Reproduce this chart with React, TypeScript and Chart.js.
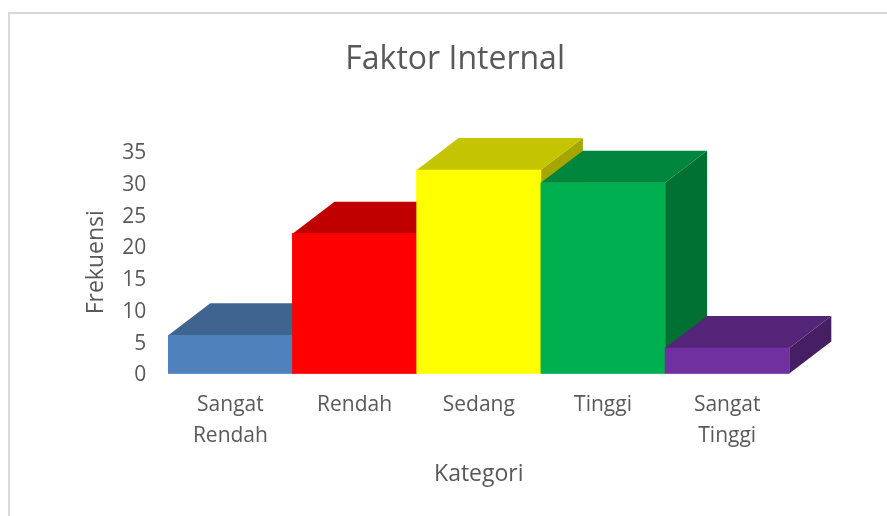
import React, { useEffect, useRef } from "react";
import { Chart, registerables } from "chart.js";

Chart.register(...registerables);

const categories = [["Sangat", "Rendah"], "Rendah", "Sedang", "Tinggi", ["Sangat", "Tinggi"]];
const frekuensi = [6, 22, 32, 30, 4];
const frontColors = ["#4F81BD", "#FF0000", "#FFFF00", "#00B050", "#7030A0"];
const topColors = ["#3F648F", "#C00000", "#C4C400", "#00853D", "#542478"];
const sideColors = ["#335275", "#9C0000", "#A6A600", "#007033", "#451E63"];
const titleText = "Faktor Internal";
const xTitle = "Kategori";
const yTitle = "Frekuensi";

const FONT = "'Open Sans', sans-serif";
const INK = "#595959";
const DEPTH_X = 42;
const DEPTH_Y = 32;

const bars3d = {
  id: "bars3d",
  beforeDraw(chart: any) {
    // nudge y tick labels so the digits sit centred on their value
    const items = chart.scales.y.getLabelItems();
    items.forEach((item: any) => {
      if (!item.nudged) {
        item.options.translation[1] += 2;
        item.nudged = true;
      }
    });
  },
  afterDatasetsDraw(chart: any) {
    const { ctx } = chart;
    const meta = chart.getDatasetMeta(0);
    meta.data.forEach((bar: any, i: number) => {
      const left = bar.x - bar.width / 2;
      const right = bar.x + bar.width / 2;
      const top = bar.y;
      const base = bar.base;
      ctx.save();
      ctx.fillStyle = sideColors[i];
      ctx.beginPath();
      ctx.moveTo(right, top);
      ctx.lineTo(right + DEPTH_X, top - DEPTH_Y);
      ctx.lineTo(right + DEPTH_X, base - DEPTH_Y);
      ctx.lineTo(right, base);
      ctx.closePath();
      ctx.fill();
      ctx.fillStyle = topColors[i];
      ctx.beginPath();
      ctx.moveTo(left, top);
      ctx.lineTo(left + DEPTH_X, top - DEPTH_Y);
      ctx.lineTo(right + DEPTH_X, top - DEPTH_Y);
      ctx.lineTo(right, top);
      ctx.closePath();
      ctx.fill();
      ctx.restore();
      bar.draw(ctx, chart.chartArea);
    });
  },
};

export default function App() {
  const ref = useRef<HTMLCanvasElement>(null);
  useEffect(() => {
    const chart = new Chart(ref.current as HTMLCanvasElement, {
      type: "bar",
      data: {
        labels: categories as any,
        datasets: [
          {
            data: frekuensi,
            backgroundColor: frontColors,
            barPercentage: 1,
            categoryPercentage: 1,
            borderWidth: 0,
          },
        ],
      },
      plugins: [bars3d],
      options: {
        responsive: false,
        animation: false,
        events: [],
        layout: { padding: { left: 121, right: 97.7, top: 0, bottom: 0 } },
        plugins: {
          legend: { display: false },
          tooltip: { enabled: false },
          title: {
            display: true,
            text: titleText,
            color: INK,
            font: { family: FONT, size: 32, weight: "normal", lineHeight: 1.2 },
            padding: { top: 41, bottom: 71.6 },
          },
        },
        scales: {
          x: {
            grid: { display: false },
            border: { display: false },
            afterFit: (s: any) => {
              s.height = 142.5;
            },
            ticks: {
              color: INK,
              padding: 9,
              maxRotation: 0,
              autoSkip: false,
              font: { family: FONT, size: 21, lineHeight: 1.43 },
            },
            title: {
              display: true,
              text: xTitle,
              color: INK,
              font: { family: FONT, size: 23 },
              padding: { top: 0, bottom: 28 },
            },
          },
          y: {
            min: 0,
            max: 35,
            grid: { display: false },
            border: { display: false },
            afterFit: (s: any) => {
              s.width = 47.3;
            },
            ticks: {
              stepSize: 5,
              color: INK,
              padding: 14,
              font: { family: FONT, size: 21 },
            },
            title: {
              display: true,
              text: yTitle,
              color: INK,
              font: { family: FONT, size: 23 },
              padding: { top: -38, bottom: 0 },
            },
          },
        },
      },
    } as any);
    return () => chart.destroy();
  }, []);

  return (
    <div style={{ position: "absolute", left: 0, top: 0, width: 887, height: 516, overflow: "hidden", background: "#fff" }}>
      <div
        style={{
          position: "absolute",
          left: 8,
          top: 12,
          width: 900,
          height: 600,
          borderLeft: "2px solid #D9D9D9",
          borderTop: "2px solid #D9D9D9",
        }}
      />
      <canvas ref={ref} width={887} height={516} style={{ position: "absolute", left: 0, top: 0, display: "block" }} />
    </div>
  );
}
